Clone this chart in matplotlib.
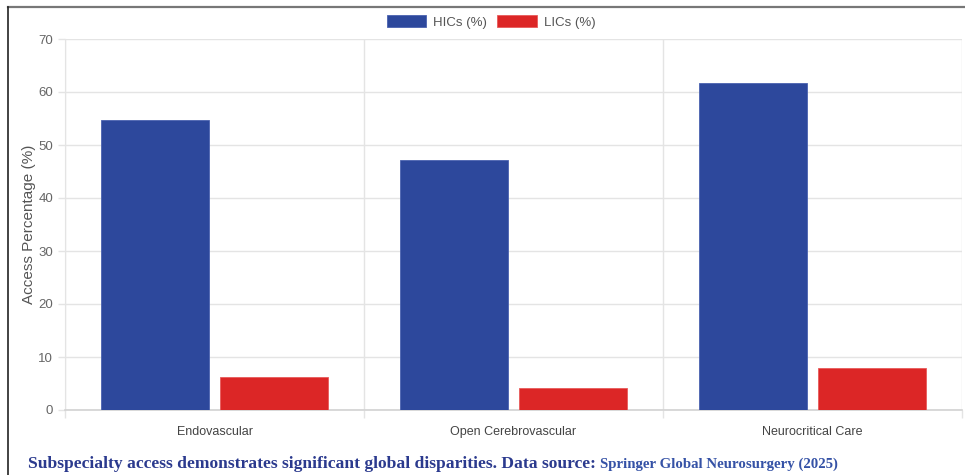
import numpy as np
import matplotlib.pyplot as plt
from matplotlib.lines import Line2D

# subspecialty access, high- vs low-income countries
categories = ["Endovascular", "Open Cerebrovascular", "Neurocritical Care"]
hic_values = [54.8, 47.2, 61.7]
lic_values = [6.3, 4.1, 7.9]
series_labels = ["HICs (%)", "LICs (%)"]

blue = "#2d489c"
red = "#dc2626"
grid_col = "#e4e4e4"
text_col = "#666666"

plt.rcParams["font.family"] = ["Liberation Sans", "DejaVu Sans"]

fig = plt.figure(figsize=(9.65, 4.75), dpi=100)
ax = fig.add_axes([65 / 965, 65 / 475, 897 / 965, 371 / 475])

x = np.arange(len(categories))
w = 0.36
ax.bar(x - 0.2, hic_values, w, color=blue, edgecolor="#4a62b0", linewidth=0.6,
       label=series_labels[0], zorder=3)
ax.bar(x + 0.2, lic_values, w, color=red, edgecolor="#e85a5a", linewidth=0.6,
       label=series_labels[1], zorder=3)

ax.set_xlim(-0.5, 2.5)
ax.set_ylim(0, 70)
ax.set_yticks(range(0, 71, 10))
ax.set_xticks(x)
ax.set_xticklabels(categories)
ax.set_xticks([-0.5, 0.5, 1.5, 2.5], minor=True)

# tick lengths and pads are in points (1 pt = 1.39 px at 100 dpi)
ax.tick_params(axis="x", which="major", length=0, pad=11.5, labelsize=9, labelcolor="#444444")
ax.tick_params(axis="x", which="minor", length=5.8, color=grid_col, width=1)
ax.tick_params(axis="y", length=5, color=grid_col, width=1, pad=3.5, labelsize=9.5,
               labelcolor=text_col)

ax.grid(axis="y", which="major", color=grid_col, linewidth=1, zorder=0)
ax.grid(axis="x", which="minor", color=grid_col, linewidth=1, zorder=0)
ax.grid(axis="x", which="major", visible=False)

for side in ["top", "right"]:
    ax.spines[side].set_visible(False)
ax.spines["left"].set_color(grid_col)
ax.spines["bottom"].set_color("#d2d2d2")
ax.spines["bottom"].set_linewidth(1.2)

ax.set_ylabel("Access Percentage (%)", fontsize=11, color="#555555")
ax.yaxis.set_label_coords(-0.032, 0.5)

fig.legend(loc="center", bbox_to_anchor=(491 / 965, 1 - 22 / 475), ncol=2,
           frameon=False, fontsize=9.5, handlelength=3.0, handleheight=1.0,
           handletextpad=0.5, columnspacing=0.8, labelcolor="#555555")

# frame lines around the figure panel
fig.add_artist(Line2D([8 / 965, 1], [1 - 6.5 / 475] * 2, color="#777777", linewidth=1.6))
fig.add_artist(Line2D([7.5 / 965] * 2, [0, 1 - 6.5 / 475], color="#222222", linewidth=1.2))

# caption with the source in a smaller font right after it
cap_y = 1 - 468 / 475
main = fig.text(28 / 965, cap_y, "Subspecialty access demonstrates significant global disparities. Data source: ",
                family=["Liberation Serif", "DejaVu Serif"], weight="bold", fontsize=12.6,
                color="#2b3a8e", va="baseline", ha="left")
fig.canvas.draw()
bb = main.get_window_extent(renderer=fig.canvas.get_renderer())
fig.text(bb.x1 / fig.bbox.width, cap_y, "Springer Global Neurosurgery (2025)",
         family=["Liberation Serif", "DejaVu Serif"], weight="bold", fontsize=10.7,
         color="#3552a6", va="baseline", ha="left")

fig.savefig("out.png", dpi=100)
